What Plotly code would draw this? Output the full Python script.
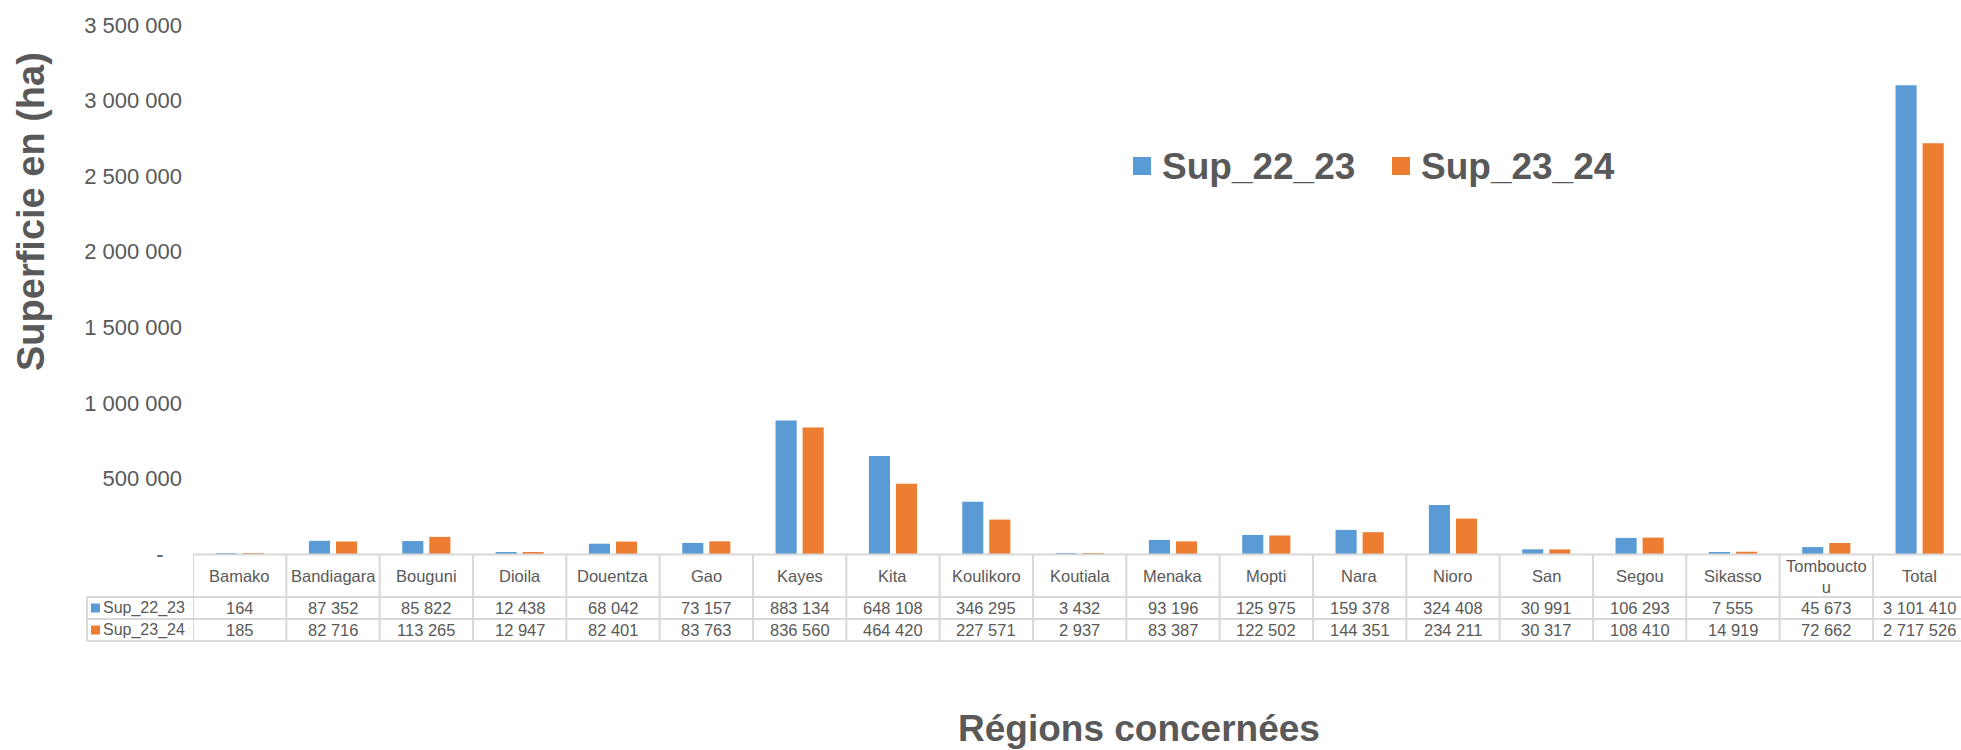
import plotly.graph_objects as go

categories = ["Bamako", "Bandiagara", "Bouguni", "Dioila", "Douentza", "Gao", "Kayes",
              "Kita", "Koulikoro", "Koutiala", "Menaka", "Mopti", "Nara", "Nioro", "San",
              "Segou", "Sikasso", "Tombouctou", "Total"]
header_labels = ["Bamako", "Bandiagara", "Bouguni", "Dioila", "Douentza", "Gao", "Kayes",
                 "Kita", "Koulikoro", "Koutiala", "Menaka", "Mopti", "Nara", "Nioro", "San",
                 "Segou", "Sikasso", "Tombouctо<br>u", "Total"]
sup_22_23 = [164, 87352, 85822, 12438, 68042, 73157, 883134, 648108, 346295, 3432,
             93196, 125975, 159378, 324408, 30991, 106293, 7555, 45673, 3101410]
sup_23_24 = [185, 82716, 113265, 12947, 82401, 83763, 836560, 464420, 227571, 2937,
             83387, 122502, 144351, 234211, 30317, 108410, 14919, 72662, 2717526]
series_names = ["Sup_22_23", "Sup_23_24"]
y_ticks = [0, 500000, 1000000, 1500000, 2000000, 2500000, 3000000, 3500000]

BLUE = "#5B9BD5"
ORANGE = "#ED7D31"
GRAY = "#595959"
GRID = "#D9D9D9"
FONT = "Arial, Liberation Sans, sans-serif"

W, H = 1961, 750
L, T, B_PX = 193, 25, 554
PW = W - L
PH = B_PX - T
TFS = 16.5  # table font size


def fmt(v):
    return f"{v:,}".replace(",", " ")


def px2x(px):
    return (px - L) / PW


def px2y(py):
    return (B_PX - py) / PH


fig = go.Figure()
for name, vals, col in [(series_names[0], sup_22_23, BLUE), (series_names[1], sup_23_24, ORANGE)]:
    fig.add_trace(go.Bar(x=list(range(len(categories))), y=vals, name=name,
                         marker=dict(color=col, line=dict(width=0)),
                         hovertext=categories, showlegend=False))

ncol = len(categories)
col_w = 93.33
x_max = -0.5 + PW / col_w

fig.update_layout(
    width=W, height=H,
    margin=dict(l=L, r=0, t=T, b=H - B_PX, autoexpand=False),
    paper_bgcolor="white", plot_bgcolor="white",
    barmode="group", bargap=0.42, bargroupgap=0.22,
    font=dict(family=FONT, color=GRAY),
    xaxis=dict(range=[-0.5, x_max], showticklabels=False, showgrid=False,
               zeroline=False, showline=False, ticks=""),
    yaxis=dict(range=[0, 3500000], tickvals=y_ticks,
               ticktext=["-\u00a0\u00a0\u00a0"] + [fmt(v) for v in y_ticks[1:]],
               tickfont=dict(size=22, color=GRAY, family=FONT),
               showgrid=False, zeroline=False, showline=False, ticks="",
               ticklabelstandoff=10, automargin=False),
)

shapes = []
annotations = []
line = dict(color=GRID, width=2)

# table geometry (pixels)
TOP, HDR, R1, R2 = 554.5, 597, 619, 641
T1, T2 = (HDR + R1) / 2, (R1 + R2) / 2
LEFT = 87

# table horizontal lines
for i, py in enumerate([TOP, HDR, R1, R2]):
    x0 = 0 if i == 0 else px2x(LEFT)
    shapes.append(dict(type="line", xref="paper", yref="paper",
                       x0=x0, x1=1.0, y0=px2y(py), y1=px2y(py), line=line))
# vertical column lines
for k in range(ncol + 1):
    shapes.append(dict(type="line", xref="x", yref="paper",
                       x0=k - 0.5, x1=k - 0.5, y0=px2y(TOP), y1=px2y(R2), line=line))
# left label column border
shapes.append(dict(type="line", xref="paper", yref="paper",
                   x0=px2x(LEFT), x1=px2x(LEFT), y0=px2y(HDR), y1=px2y(R2), line=line))

# header text
for i, lab in enumerate(header_labels):
    annotations.append(dict(x=i, y=px2y(576), xref="x", yref="paper", text=lab,
                            showarrow=False, font=dict(size=TFS, color=GRAY, family=FONT),
                            xanchor="center", yanchor="middle"))
# values
for vals, py in [(sup_22_23, T1), (sup_23_24, T2)]:
    for i, v in enumerate(vals):
        annotations.append(dict(x=i, y=px2y(py), xref="x", yref="paper", text=fmt(v),
                                showarrow=False, font=dict(size=TFS, color=GRAY, family=FONT),
                                xanchor="center", yanchor="middle"))
# row labels with keys
for name, col, py in [(series_names[0], BLUE, T1), (series_names[1], ORANGE, T2)]:
    shapes.append(dict(type="rect", xref="paper", yref="paper",
                       x0=px2x(91), x1=px2x(100), y0=px2y(py - 4.5), y1=px2y(py + 4.5),
                       fillcolor=col, line=dict(width=0)))
    annotations.append(dict(x=px2x(101), y=px2y(py), xref="paper", yref="paper", text=name,
                            showarrow=False, font=dict(size=16, color=GRAY, family=FONT),
                            xanchor="left", yanchor="middle"))

# legend (manual)
for name, col, sx, tx in [(series_names[0], BLUE, 1133, 1160), (series_names[1], ORANGE, 1392, 1419)]:
    shapes.append(dict(type="rect", xref="paper", yref="paper",
                       x0=px2x(sx), x1=px2x(sx + 18), y0=px2y(157), y1=px2y(175),
                       fillcolor=col, line=dict(width=0)))
    annotations.append(dict(x=px2x(tx), y=px2y(166), xref="paper", yref="paper",
                            text=f"<b>{name}</b>", showarrow=False,
                            font=dict(size=37, color=GRAY, family=FONT),
                            xanchor="left", yanchor="middle"))

# axis titles
annotations.append(dict(x=px2x(1139), y=px2y(728), xref="paper", yref="paper",
                        text="<b>Régions concernées</b>", showarrow=False,
                        font=dict(size=37, color=GRAY, family=FONT),
                        xanchor="center", yanchor="middle"))
annotations.append(dict(x=px2x(31), y=px2y(212), xref="paper", yref="paper",
                        text="<b>Superficie en (ha)</b>", showarrow=False, textangle=-90,
                        font=dict(size=38, color=GRAY, family=FONT),
                        xanchor="center", yanchor="middle"))

fig.update_layout(shapes=shapes, annotations=annotations)
fig.write_html("out.html", config={"displayModeBar": False},
               post_script="document.body.style.margin='0';document.body.style.overflow='hidden';")
